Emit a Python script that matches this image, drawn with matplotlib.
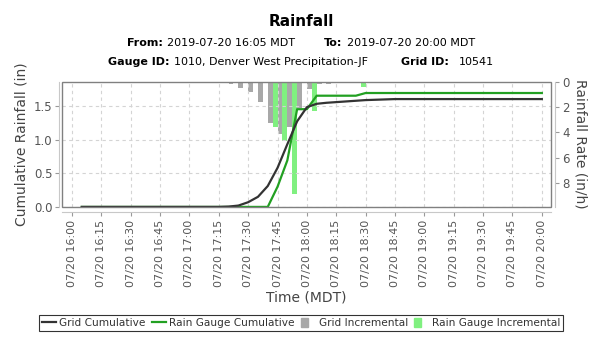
import matplotlib
matplotlib.use('Agg')
import matplotlib.pyplot as plt
import matplotlib.dates as mdates
from matplotlib.offsetbox import TextArea, HPacker, AnchoredOffsetbox
from matplotlib.patches import Rectangle
from matplotlib.lines import Line2D
import numpy as np
import pandas as pd
from datetime import timedelta

# 5-minute timestamps, 16:05 .. 20:00 MDT
times = pd.date_range('2019-07-20 16:05', '2019-07-20 20:00', freq='5min').to_pydatetime()

# cumulative rainfall (in)
grid_cum = [0.0] * 15 + [0.005, 0.02, 0.07, 0.15, 0.31, 0.58, 0.93, 1.27, 1.48, 1.53,
                         1.545, 1.555, 1.565, 1.575, 1.585, 1.59, 1.595] + [1.60] * 16
gauge_cum = [0.0] * 19 + [0.0, 0.30, 0.69, 1.45, 1.45, 1.65,
                          1.65, 1.65, 1.65, 1.65, 1.69] + [1.69] * 18

# incremental rates (in/h)
grid_rate = [0.0] * 16 + [0.22, 0.48, 0.83, 1.6, 3.3, 4.1, 3.6, 2.1, 0.55,
                          0.18, 0.18, 0.15, 0.15, 0.15] + [0.0] * 18
gauge_rate = [0.0] * 20 + [3.6, 4.7, 8.9, 0.0, 2.3,
                           0.0, 0.0, 0.0, 0.0, 0.4] + [0.0] * 18

tick_color = '#555555'
dark = '#333333'
green = '#22a022'
gray_bar = '#a8a8a8'
green_bar = '#80f080'

fig = plt.figure(figsize=(6.02, 3.37), dpi=100)
ax = fig.add_axes([0.103, 0.386, 0.812, 0.372])
ax2 = ax.twinx()

x = mdates.date2num(times)
half = 2.5 / 1440.0

# bars hang from the top of the inverted right axis
ax2.bar(x - 2 * half, grid_rate, width=half, align='edge', color=gray_bar, linewidth=0)
ax2.bar(x - half, gauge_rate, width=half, align='edge', color=green_bar, linewidth=0)
ax2.set_ylim(9.88, 0)
ax2.set_yticks([0, 2, 4, 6, 8])

ax.plot(x, gauge_cum, color=green, lw=1.6)
ax.plot(x, grid_cum, color=dark, lw=1.6)
ax.set_ylim(0, 1.86)
ax.set_yticks([0.0, 0.5, 1.0, 1.5])
ax.set_yticklabels(['0.0', '0.5', '1.0', '1.5'])

ax.set_zorder(ax2.get_zorder() + 1)
ax.patch.set_visible(False)

x0 = mdates.date2num(times[0] - timedelta(minutes=10, seconds=6))
x1 = mdates.date2num(times[-1] + timedelta(minutes=4, seconds=36))
ax.set_xlim(x0, x1)
ax.xaxis.set_major_locator(mdates.MinuteLocator(byminute=[0, 15, 30, 45]))
ax.xaxis.set_major_formatter(mdates.DateFormatter('%m/%d %H:%M'))

ax.grid(True, color='#d4d4d4', linestyle=(0, (3, 3)), linewidth=0.8)

# axis styling: offset axis lines, separate gray frame
for a in (ax, ax2):
    for s in a.spines.values():
        s.set_visible(False)
ax.spines['left'].set_visible(True)
ax.spines['left'].set_position(('outward', 2))
ax.spines['bottom'].set_visible(True)
ax.spines['bottom'].set_position(('outward', 4))
ax2.spines['right'].set_visible(True)
ax2.spines['right'].set_position(('outward', 3))
for s in (ax.spines['left'], ax.spines['bottom'], ax2.spines['right']):
    s.set_color('#c8c8c8')
    s.set_linewidth(0.8)
ax.add_patch(Rectangle((0, 0), 1, 1, transform=ax.transAxes, fill=False,
                       edgecolor='#808080', linewidth=1.0, zorder=5, clip_on=False))

ax.tick_params(axis='both', colors='#999999', labelcolor=tick_color, labelsize=8,
               length=3, width=0.8, pad=2)
ax.tick_params(axis='y', labelsize=8.5)
ax.tick_params(axis='x', labelrotation=90)
ax2.tick_params(axis='y', colors='#999999', labelcolor=tick_color, labelsize=8.5,
                length=3, width=0.8, pad=2)

ax.set_xlabel('Time (MDT)', fontsize=10, color='#444444', labelpad=3)
ax.set_ylabel('Cumulative Rainfall (in)', fontsize=10, color='#444444', labelpad=4)
ax2.set_ylabel('Rainfall Rate (in/h)', fontsize=10, color='#444444', rotation=270,
               labelpad=13)

# title and subtitles
fig.text(0.5, 0.935, 'Rainfall', ha='center', va='center', fontsize=11,
         fontweight='bold')


def label_row(parts, gap):
    groups = []
    for bold, val, inner in parts:
        groups.append(HPacker(children=[
            TextArea(bold, textprops=dict(fontsize=8, fontweight='bold')),
            TextArea(val, textprops=dict(fontsize=8))], sep=inner, pad=0))
    return HPacker(children=groups, sep=gap, pad=0)


row1 = label_row([('From:', '2019-07-20 16:05 MDT', 3),
                  ('To:', '2019-07-20 20:00 MDT', 3)], 21)
row2 = label_row([('Gauge ID:', '1010, Denver West Precipitation-JF', 3),
                  ('Grid ID:', '10541', 7)], 24)
for row, yy in ((row1, 0.872), (row2, 0.816)):
    box = AnchoredOffsetbox(loc='center', child=row, pad=0, borderpad=0, frameon=False,
                            bbox_to_anchor=(0.5, yy), bbox_transform=fig.transFigure)
    fig.add_artist(box)

handles = [Line2D([], [], color=dark, lw=1.6),
           Line2D([], [], color=green, lw=1.6),
           Rectangle((0, 0), 1, 1, color=gray_bar),
           Rectangle((0, 0), 1, 1, color=green_bar)]
labels = ['Grid Cumulative', 'Rain Gauge Cumulative', 'Grid Incremental',
          'Rain Gauge Incremental']
leg = fig.legend(handles, labels, loc='center', bbox_to_anchor=(0.5, 0.042), ncol=4,
                 fontsize=7.6, frameon=True, fancybox=False, handlelength=1.3,
                 handleheight=0.9, handletextpad=0.35, columnspacing=0.6,
                 borderpad=0.3, borderaxespad=0)
leg.get_frame().set_edgecolor('black')
leg.get_frame().set_linewidth(0.8)
for t in leg.get_texts():
    t.set_color('#333333')
for h in leg.legend_handles[2:]:
    h.set_width(5)

fig.savefig('out.png', dpi=100)
